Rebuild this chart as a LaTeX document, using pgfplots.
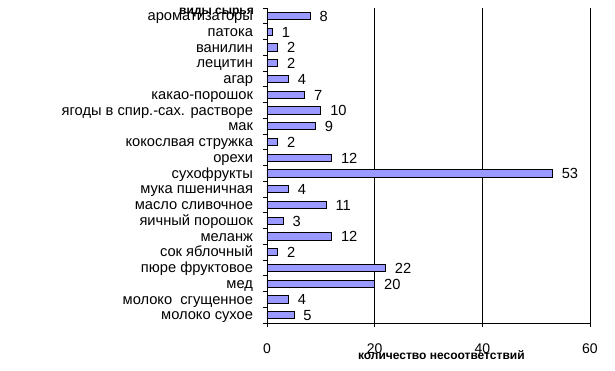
\documentclass[border=0pt]{standalone}
\usepackage{pgfplots}
\pgfplotsset{compat=1.18}
\usepackage{fontspec}
\setmainfont{Liberation Sans}
\definecolor{barfill}{RGB}{153,153,255}
\begin{document}
\begin{tikzpicture}
\useasboundingbox (0,0) rectangle (461.25pt,278.25pt);
\begin{axis}[
  at={(200.25pt,36pt)}, anchor=south west,
  scale only axis, width=242.25pt, height=236.25pt,
  xbar, bar width=0.45,
  xmin=0, xmax=60, xtick={0,20,40,60},
  ymin=-0.5, ymax=19.5, y dir=reverse,
  ytick={0,...,19},
  yticklabels={ароматизаторы,патока,ванилин,лецитин,агар,какао-порошок,ягоды в спир.-сах. растворе,мак,кокослвая стружка,орехи,сухофрукты,мука пшеничная,масло сливочное,яичный порошок,меланж,сок яблочный,пюре фруктовое,мед,молоко\ \ сгущенное,молоко сухое},
  minor ytick={-0.5,0.5,...,19.5},
  major y tick style={draw=none},
  tick align=outside, major tick length=3pt, minor tick length=3pt,
  axis x line*=bottom, axis y line*=left,
  axis line style={black, line width=0.6pt},
  xmajorgrids, grid style={black, line width=0.6pt},
  tick style={black, line width=0.6pt},
  xticklabel style={font=\fontsize{10.5}{12}\selectfont, yshift=-9pt},
  yticklabel style={font=\fontsize{11}{12}\selectfont, xshift=-4pt, yshift=-1pt, text height=0.6em, text depth=0.1em},
  /pgf/number format/assume math mode=true,
  nodes near coords,
  nodes near coords style={font=\fontsize{11}{12}\selectfont, anchor=west, xshift=3.5pt, yshift=-0.5pt, text height=0.72em, text depth=0em},
]
\addplot[fill=barfill, draw=black, line width=0.5pt] coordinates {
(8,0) (1,1) (2,2) (2,3) (4,4) (7,5) (10,6) (9,7) (2,8) (12,9)
(53,10) (4,11) (11,12) (3,13) (12,14) (2,15) (22,16) (20,17) (4,18) (5,19)
};
\end{axis}
\node[font=\bfseries\fontsize{9}{10}\selectfont] at (162.4pt,268.5pt) {виды сырья};
\node[font=\bfseries\fontsize{9}{10}\selectfont] at (331pt,12pt) {количество несоответствий};
\end{tikzpicture}
\end{document}
